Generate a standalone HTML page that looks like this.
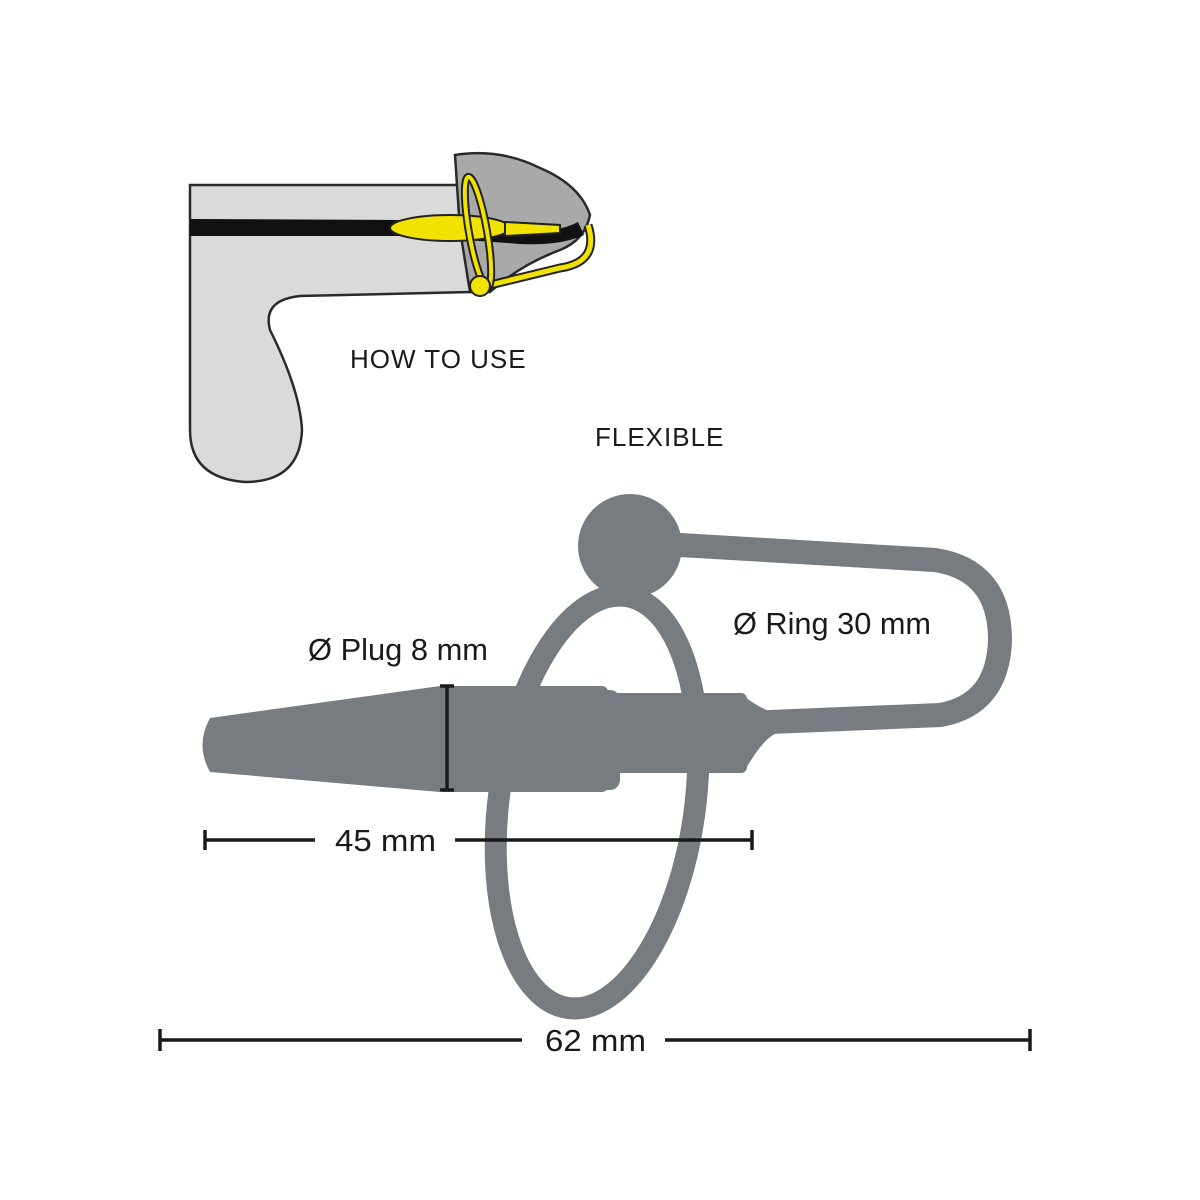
<!DOCTYPE html>
<html><head><meta charset="utf-8"><style>
html,body{margin:0;padding:0;background:#fff;}
svg{display:block}
text{font-family:"Liberation Sans",sans-serif;fill:#1a1a1a}
</style></head><body>
<svg width="1200" height="1200" viewBox="0 0 1200 1200" xmlns="http://www.w3.org/2000/svg">
<path d="M190,185 L470,185 L470,292 L300,296 Q262,300 270,330 Q300,390 302,430 Q300,482 245,482 Q190,478 190,430 Z" fill="#dadada" stroke="#2a2a2a" stroke-width="2.5"/>
<path d="M455,155 Q500,148 540,168 Q580,185 590,215 Q585,240 560,250 Q520,265 490,292 L470,292 L460,230 Z" fill="#a9a9a9" stroke="#2a2a2a" stroke-width="2.5"/>
<path d="M190,219 L400,220 Q470,222 520,232 Q560,232 578,222 L584,235 Q560,246 520,244 Q470,240 400,236 L190,236 Z" fill="#111"/>
<path d="M588,225 Q600,262 560,268 L490,285" fill="none" stroke="#222" stroke-width="9"/>
<path d="M588,225 Q600,262 560,268 L490,285" fill="none" stroke="#f2e200" stroke-width="5"/>
<ellipse cx="450" cy="228" rx="60" ry="13" fill="#f2e200" stroke="#222" stroke-width="2"/>
<path d="M505,222 L560,225 L560,233 L505,236 Z" fill="#f2e200" stroke="#222" stroke-width="2"/>
<ellipse cx="478" cy="232" rx="9" ry="56" fill="none" stroke="#222" stroke-width="8" transform="rotate(-10 478 232)"/>
<ellipse cx="478" cy="232" rx="9" ry="56" fill="none" stroke="#f2e200" stroke-width="4" transform="rotate(-10 478 232)"/>
<circle cx="480" cy="286" r="10" fill="#f2e200" stroke="#222" stroke-width="2"/>

<text x="350" y="368" font-size="26" letter-spacing="1">HOW TO USE</text>
<text x="595" y="446" font-size="26" letter-spacing="1">FLEXIBLE</text>

<g fill="#777c80">
<path d="M680,545 L935,560 Q1000,570 1000,640 Q998,705 940,715 L770,722" fill="none" stroke="#777c80" stroke-width="24" stroke-linecap="round"/>
<path d="M210,718 Q195,745 210,772 L440,792 L440,686 Z"/>
<rect x="438" y="686" width="170" height="106" rx="6"/>
</g>
<ellipse cx="597" cy="802" rx="98" ry="208" fill="none" stroke="#777c80" stroke-width="22" transform="rotate(8 597 802)"/>
<g fill="#777c80">
<rect x="590" y="690" width="30" height="100" rx="10"/>
<rect x="612" y="693" width="135" height="80" rx="6"/>
<path d="M745,697 Q765,712 780,714 L780,732 Q765,735 745,770 Z"/>
<circle cx="630" cy="546" r="52"/>
</g>

<g stroke="#1a1a1a" stroke-width="3.5" fill="none">
<line x1="447" y1="686" x2="447" y2="790"/>
<line x1="440" y1="686" x2="454" y2="686"/><line x1="440" y1="790" x2="454" y2="790"/>
<line x1="205" y1="840" x2="315" y2="840"/><line x1="455" y1="840" x2="752" y2="840"/>
<line x1="205" y1="830" x2="205" y2="850"/><line x1="752" y1="830" x2="752" y2="850"/>
<line x1="160" y1="1040" x2="522" y2="1040"/><line x1="665" y1="1040" x2="1030" y2="1040"/>
<line x1="160" y1="1029" x2="160" y2="1051"/><line x1="1030" y1="1029" x2="1030" y2="1051"/>
</g>
<text x="308" y="660" font-size="31" textLength="180" lengthAdjust="spacingAndGlyphs">Ø Plug 8 mm</text>
<text x="733" y="634" font-size="31" textLength="198" lengthAdjust="spacingAndGlyphs">Ø Ring 30 mm</text>
<text x="335" y="851" font-size="31" textLength="101" lengthAdjust="spacingAndGlyphs">45 mm</text>
<text x="545" y="1051" font-size="31" textLength="101" lengthAdjust="spacingAndGlyphs">62 mm</text>
</svg>
</body></html>
